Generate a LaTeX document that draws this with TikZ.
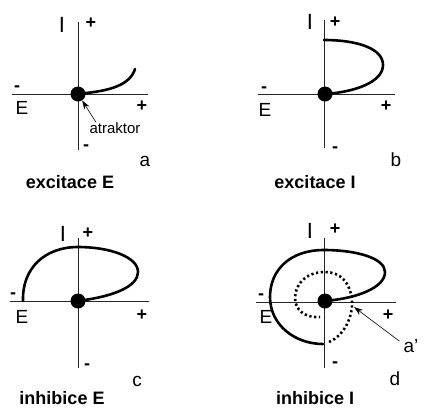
\documentclass[tikz,border=0pt]{standalone}
\usepackage{fontspec}
\setmainfont{Liberation Sans}
\usetikzlibrary{arrows.meta}
\tikzset{
  axis/.style={line width=0.9pt, black!85},
  traj/.style={line width=2.6pt, line cap=round},
  dottraj/.style={line width=2.6pt, dash pattern=on 2.2pt off 2.6pt},
  attr/.style={circle, fill=black, inner sep=0pt, minimum size=15pt},
  lab/.style={inner sep=0pt, font=\fontsize{19}{19}\selectfont},
  ilab/.style={inner sep=0pt, font=\fontsize{22}{22}\selectfont},
  sgn/.style={inner sep=0pt, font=\fontsize{18}{18}\selectfont\bfseries},
  captxt/.style={inner sep=0pt, font=\fontsize{18}{18}\selectfont\bfseries},
  small/.style={inner sep=1pt, font=\fontsize{15}{15}\selectfont},
  pointer/.style={line width=0.6pt, -{Stealth[length=9pt,width=6pt]}}
}
\begin{document}
\begin{tikzpicture}[x=1pt,y=-1pt]
\useasboundingbox (0,0) rectangle (427,407);
% ---------- panel a ----------
\coordinate (aT) at (78,22); \coordinate (aB) at (78,150);
\coordinate (aL) at (12,94); \coordinate (aR) at (148,94);
\draw[axis] (aT) -- (aB); \draw[axis] (aL) -- (aR);
\coordinate (aO) at (78,94);
\draw[traj] (aO) -- (81,93.5) .. controls (110,91) and (130,85) .. (135,69);
\node[attr] (dotA) at (aO) {};
\node[ilab] (aI) at (62,25) {I};
\node[sgn] (aPt) at (91,23) {+};
\node[sgn] (aMl) at (17,89) {-};
\node[lab] (aE) at (22,108) {E};
\node[sgn] (aPr) at (142,106) {+};
\node[sgn] (aMb) at (86,148) {-};
\node[lab] (aLet) at (145,161) {a};
\node[captxt] (aCap) at (70,182) {excitace E};
\node[small] (atr) at (115,128) {atraktor};
\draw[pointer] ([xshift=-19pt,yshift=-1pt]atr.north) -- (dotA);
% ---------- panel b ----------
\coordinate (bT) at (324,20); \coordinate (bB) at (324,148);
\coordinate (bL) at (258,94); \coordinate (bR) at (395,94);
\draw[axis] (bT) -- (bB); \draw[axis] (bL) -- (bR);
\coordinate (bO) at (325,94);
\draw[traj] (324,40) .. controls (356,40) and (383,48) .. (383,65)
  .. controls (383,82) and (355,92) .. (bO);
\node[attr] (dotB) at (bO) {};
\node[ilab] (bI) at (310,22) {I};
\node[sgn] (bPt) at (335,22) {+};
\node[sgn] (bMl) at (264,90) {-};
\node[lab] (bE) at (265,110) {E};
\node[sgn] (bPr) at (386,106) {+};
\node[sgn] (bMb) at (335,150) {-};
\node[lab] (bLet) at (396,160) {b};
\node[captxt] (bCap) at (315,182) {excitace I};
% ---------- panel c ----------
\coordinate (cT) at (78,238); \coordinate (cB) at (78,368);
\coordinate (cL) at (10,301); \coordinate (cR) at (149,301);
\draw[axis] (cT) -- (cB); \draw[axis] (cL) -- (cR);
\coordinate (cO) at (78,301);
\draw[traj] (cO) -- (81,300.5) .. controls (115,296) and (138,286) .. (138,272)
  .. controls (138,257) and (110,247) .. (78,247)
  .. controls (45,247) and (22,268) .. (23,301);
\node[attr] (dotC) at (cO) {};
\node[ilab] (cI) at (63,234) {I};
\node[sgn] (cPt) at (88,233) {+};
\node[sgn] (cMl) at (13,296) {-};
\node[lab] (cE) at (22,317) {E};
\node[sgn] (cPr) at (142,315) {+};
\node[sgn] (cMb) at (87,367) {-};
\node[lab] (cLet) at (137,381) {c};
\node[captxt] (cCap) at (62,398) {inhibice E};
% ---------- panel d ----------
\coordinate (dT) at (324,238); \coordinate (dB) at (324,368);
\coordinate (dL) at (256,302); \coordinate (dR) at (396,302);
\draw[axis] (dT) -- (dB); \draw[axis] (dL) -- (dR);
\coordinate (dO) at (325,301);
\node[ilab] (dI) at (310,231) {I};
\node[sgn] (dPt) at (335,229) {+};
\node[sgn] (dMl) at (261,297) {-};
\node[lab] (dE) at (266,317) {E};
\node[sgn] (dPr) at (388,315) {+};
\node[sgn] (dMb) at (335,365) {-};
\node[lab] (dLet) at (395,379) {d};
\node[lab] (dAp) at (411,346) {a'};
\node[captxt] (dCap) at (315,398) {inhibice I};
\draw[traj] (dO) -- (329,300.5) .. controls (356,298) and (385,288) .. (385,272)
  .. controls (385,258) and (356,250) .. (324,250)
  .. controls (290,250) and (270,270) .. (270,297)
  .. controls (270,325) and (295,344) .. (323,344);
\draw[dottraj] (329,342) .. controls (345,335) and (353,316) .. (352,300)
  .. controls (350,282) and (340,272) .. (325,272)
  .. controls (305,272) and (295,285) .. (295,298)
  .. controls (295,310) and (305,318) .. (320,317);
\node[attr] (dotD) at (dO) {};
\coordinate (dTip) at (354,307);
\draw[pointer] ([xshift=-4pt,yshift=-2pt]dAp.north west) -- (dTip);
\end{tikzpicture}
\end{document}
